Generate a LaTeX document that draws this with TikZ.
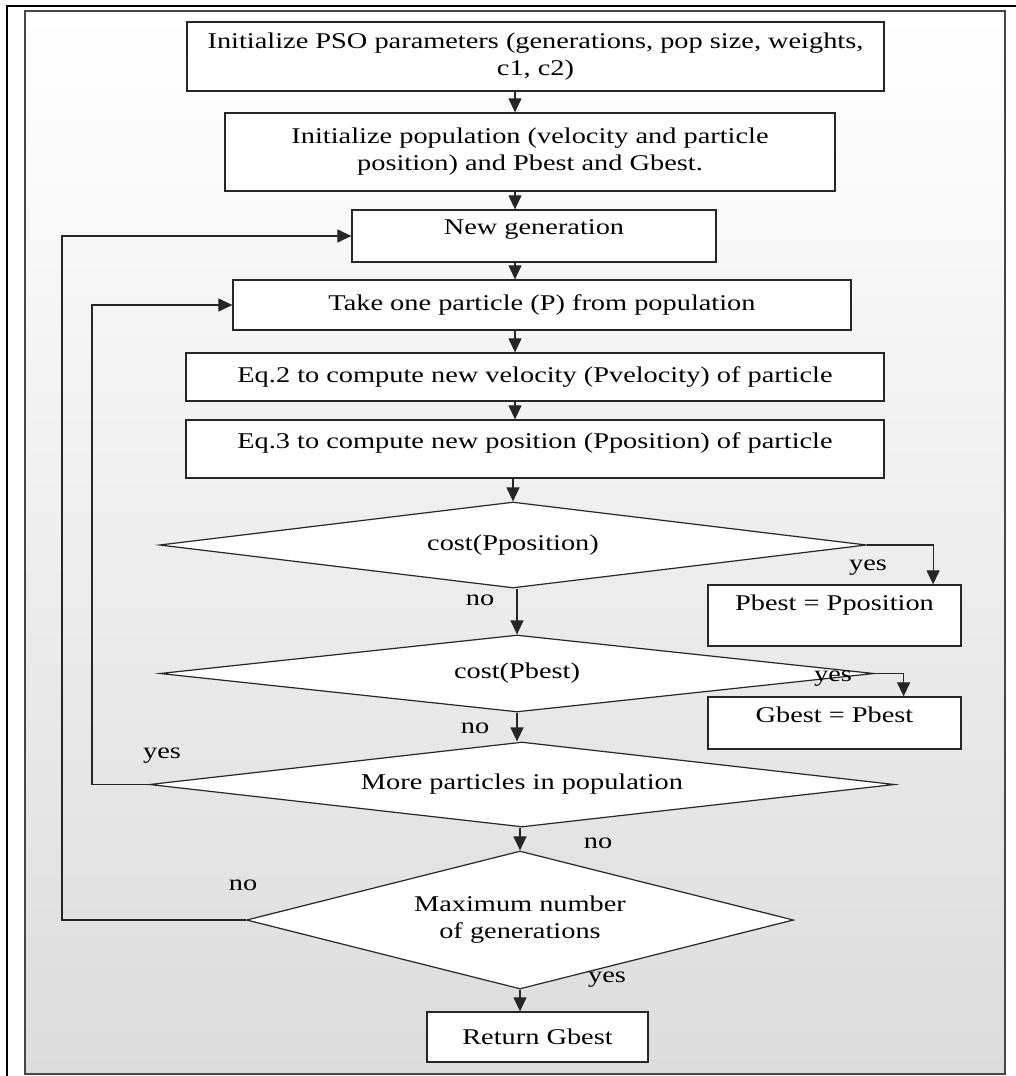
\documentclass[tikz,border=0pt]{standalone}
\usepackage{fontspec}
\setmainfont{Liberation Serif}[FakeStretch=1.26]
\usepackage{tikz}
\usetikzlibrary{shapes.geometric,arrows.meta}
\definecolor{framegray}{RGB}{70,70,70}
\definecolor{shadebot}{RGB}{220,220,220}

\begin{document}
\begin{tikzpicture}[x=1pt,y=-1pt,font=\fontsize{22.5}{27}\selectfont,
        box/.style={draw=black!85,line width=1.3pt,fill=white,align=center,inner sep=2pt},
        dia/.style={diamond,draw=black!85,line width=1.2pt,fill=white,align=center,shape aspect=6,inner sep=2pt},
        lbl/.style={inner sep=0pt},
        arr/.style={draw=black!85,line width=1.2pt,-{Triangle[length=14pt,width=13pt]}}]
        \useasboundingbox (0,0) rectangle (1016,1076);
        \shade[top color=white,bottom color=shadebot,draw=framegray,line width=1.5pt] (25,11) rectangle (1005,1074);
        \draw[line width=2pt] (7,1076) -- (7,6) -- (1016,6);

        \node[box,minimum width=697pt,minimum height=69pt] (init) at (535.5,56.5) {Initialize PSO parameters (generations, pop size, weights,\\ c1, c2)};
        \node[box,minimum width=610pt,minimum height=78pt] (pop) at (530,152) {Initialize population (velocity and particle\\ position) and Pbest and Gbest.};
        \node[box,minimum width=364pt,minimum height=52pt,text depth=17pt] (gen) at (534,236) {New generation};
        \node[box,minimum width=618pt,minimum height=50pt] (take) at (542,305) {Take one particle (P) from population};
        \node[box,minimum width=698pt,minimum height=48pt] (vel) at (535,377) {Eq.2 to compute new velocity (Pvelocity) of particle};
        \node[box,minimum width=698pt,minimum height=58pt,text depth=17pt] (posn) at (535,449) {Eq.3 to compute new position (Pposition) of particle};

        \node[dia,minimum width=707pt,minimum height=86pt] (c1) at (513,545) {cost(Pposition)};
        \node[box,minimum width=253pt,minimum height=61pt,text depth=25pt] (pb) at (834.5,615.5) {Pbest = Pposition};
        \node[dia,minimum width=714pt,minimum height=77pt] (c2) at (517,673.5) {cost(Pbest)};
        \node[box,minimum width=253pt,minimum height=52pt,text depth=17pt] (gb) at (834.5,723) {Gbest = Pbest};
        \node[dia,minimum width=745pt,minimum height=85pt] (more) at (522,784.5) {More particles in population};
        \node[dia,minimum width=547pt,minimum height=138pt] (maxg) at (520,920) {Maximum number\\ of generations};
        \node[box,minimum width=221pt,minimum height=50pt] (ret) at (537.5,1037) {Return Gbest};

        \coordinate (sp) at (515,0);
        \foreach \a/\b in {init/pop,pop/gen,gen/take,take/vel,vel/posn}
          \draw[arr] (\a.south -| sp) -- (\b.north -| sp);
        \draw[arr] (posn.south -| c1.north) -- (c1.north);
        \draw[arr] (c1.south -| c2.north) -- (c2.north);
        \draw[arr] (c2.south) -- (c2.south |- more.north);
        \draw[arr] (more.south -| maxg.north) -- (maxg.north);
        \draw[arr] (maxg.south) -- (maxg.south |- ret.north);

        \draw[arr] (c1.east) -- ++(66,0) coordinate (c1y) -- (c1y |- pb.north);
        \draw[arr] (c2.east) -- ++(29,0) coordinate (c2y) -- (c2y |- gb.north);
        \draw[arr] (more.west) -- ++(-57,0) |- (take.west);
        \draw[arr] (maxg.west) -- ++(-184,0) |- (gen.west);

        \node[lbl] (yesc1) at (868,568) {yes};
        \node[lbl] (noc1) at (480,600) {no};
        \node[lbl] (yesc2) at (833,679) {yes};
        \node[lbl] (noc2) at (475,728) {no};
        \node[lbl] (yesmore) at (162,756) {yes};
        \node[lbl] (nomore) at (598,843) {no};
        \node[lbl] (nomax) at (243,885) {no};
        \node[lbl] (yesmax) at (607,980) {yes};
      \end{tikzpicture}
\end{document}
